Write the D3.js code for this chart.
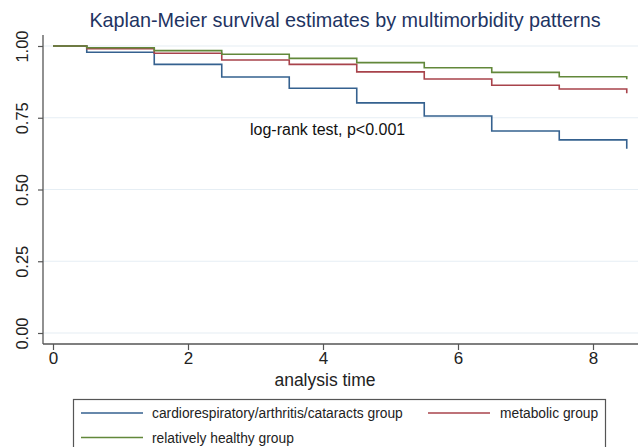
<!DOCTYPE html>
<html>
<head>
<meta charset="utf-8">
<script src="https://cdn.jsdelivr.net/npm/d3@7"></script>
<style>
  body { margin: 0; background: #fff; }
  svg { display: block; font-family: "Liberation Sans", Arial, sans-serif; }
</style>
</head>
<body>
<div id="chart"></div>
<script>
// data
const times = [0, 0.5, 1.5, 2.5, 3.5, 4.5, 5.5, 6.5, 7.5, 8.5];
const cardioSurv = [1, 0.978, 0.936, 0.892, 0.853, 0.802, 0.756, 0.704, 0.673, 0.642];
const metabolicSurv = [1, 0.991, 0.975, 0.951, 0.936, 0.910, 0.885, 0.863, 0.850, 0.835];
const healthySurv = [1, 0.994, 0.984, 0.971, 0.957, 0.942, 0.924, 0.908, 0.893, 0.884];
const seriesNames = ["cardiorespiratory/arthritis/cataracts group", "metabolic group", "relatively healthy group"];
const xTicks = [0, 2, 4, 6, 8];
const yTicks = [0, 0.25, 0.5, 0.75, 1];

const W = 638, H = 447;
const colors = ["#35618f", "#a8434b", "#62883a"];
const series = [cardioSurv, metabolicSurv, healthySurv].map((vals, i) => ({
    name: seriesNames[i],
    color: colors[i],
    points: times.map((t, j) => ({ t: t, s: vals[j] }))
}));

const svg = d3.select("#chart").append("svg")
    .attr("width", W).attr("height", H);

// scales
const x = d3.scaleLinear().domain([0, 8]).range([53, 593]);
const y = d3.scaleLinear().domain([0, 1]).range([333, 46]);
const axisY = 344, axisX = 43;

// gridlines
svg.append("g")
    .selectAll("line")
    .data(yTicks)
    .join("line")
    .attr("x1", axisX).attr("x2", W)
    .attr("y1", d => y(d)).attr("y2", d => y(d))
    .attr("stroke", "#e6eef4").attr("stroke-width", 1.2);

// y axis (labels rotated like Stata)
const yAxis = svg.append("g")
    .attr("transform", `translate(${axisX},0)`)
    .call(d3.axisLeft(y).tickValues(yTicks).tickFormat(d3.format(".2f")).tickSize(5).tickSizeOuter(0));
yAxis.select(".domain").remove();
yAxis.append("line").attr("y1", 35).attr("y2", axisY).attr("stroke", "#555").attr("stroke-width", 1.3);
yAxis.selectAll(".tick line").attr("stroke", "#555").attr("stroke-width", 1.2);
yAxis.selectAll(".tick text")
    .attr("transform", "rotate(-90)")
    .attr("x", 0).attr("dx", 0).attr("dy", 0).attr("y", -15)
    .attr("text-anchor", "middle")
    .attr("font-size", 16.5).attr("fill", "#222")
    .attr("font-family", "Liberation Sans, Arial, sans-serif");

// x axis
const xAxis = svg.append("g")
    .attr("transform", `translate(0,${axisY})`)
    .call(d3.axisBottom(x).tickValues(xTicks).tickSize(6).tickSizeOuter(0));
xAxis.select(".domain").remove();
xAxis.append("line").attr("x1", axisX).attr("x2", W).attr("stroke", "#555").attr("stroke-width", 1.3);
xAxis.selectAll(".tick line").attr("stroke", "#555").attr("stroke-width", 1.2);
xAxis.selectAll(".tick text")
    .attr("font-size", 17).attr("fill", "#222").attr("y", 8)
    .attr("font-family", "Liberation Sans, Arial, sans-serif");

svg.append("text")
    .attr("x", x(4) + 2).attr("y", 386)
    .attr("text-anchor", "middle")
    .attr("font-size", 17.5).attr("fill", "#222")
    .text("analysis time");

// survival curves
const line = d3.line()
    .x(d => x(d.t))
    .y(d => y(d.s))
    .curve(d3.curveStepAfter);

svg.append("g")
    .selectAll("path")
    .data(series)
    .join("path")
    .attr("d", d => line(d.points))
    .attr("fill", "none")
    .attr("stroke", d => d.color)
    .attr("stroke-width", 1.6);

// title
svg.append("text")
    .attr("x", 345).attr("y", 27)
    .attr("text-anchor", "middle")
    .attr("font-size", 19.8).attr("fill", "#1e3462")
    .text("Kaplan-Meier survival estimates by multimorbidity patterns");

// annotation
svg.append("text")
    .attr("x", 250).attr("y", 135)
    .attr("font-size", 16).attr("fill", "#111")
    .text("log-rank test, p<0.001");

// legend
const legend = svg.append("g");
legend.append("rect")
    .attr("x", 73.5).attr("y", 399.5)
    .attr("width", 532).attr("height", 60)
    .attr("fill", "#fff").attr("stroke", "#555").attr("stroke-width", 1.2);

const legendPos = [
    { lx: 81, ly: 413 },
    { lx: 428, ly: 413 },
    { lx: 81, ly: 437.5 }
];
const items = legend.selectAll(".item")
    .data(series)
    .join("g")
    .attr("class", "item")
    .attr("transform", (d, i) => `translate(${legendPos[i].lx},${legendPos[i].ly})`);
items.append("line")
    .attr("x1", 0).attr("x2", 62)
    .attr("stroke", d => d.color).attr("stroke-width", 1.6);
items.append("text")
    .attr("x", (d, i) => i === 1 ? 72 : 71)
    .attr("y", 5)
    .attr("font-size", 13.8).attr("fill", "#222")
    .text(d => d.name);
</script>
</body>
</html>
